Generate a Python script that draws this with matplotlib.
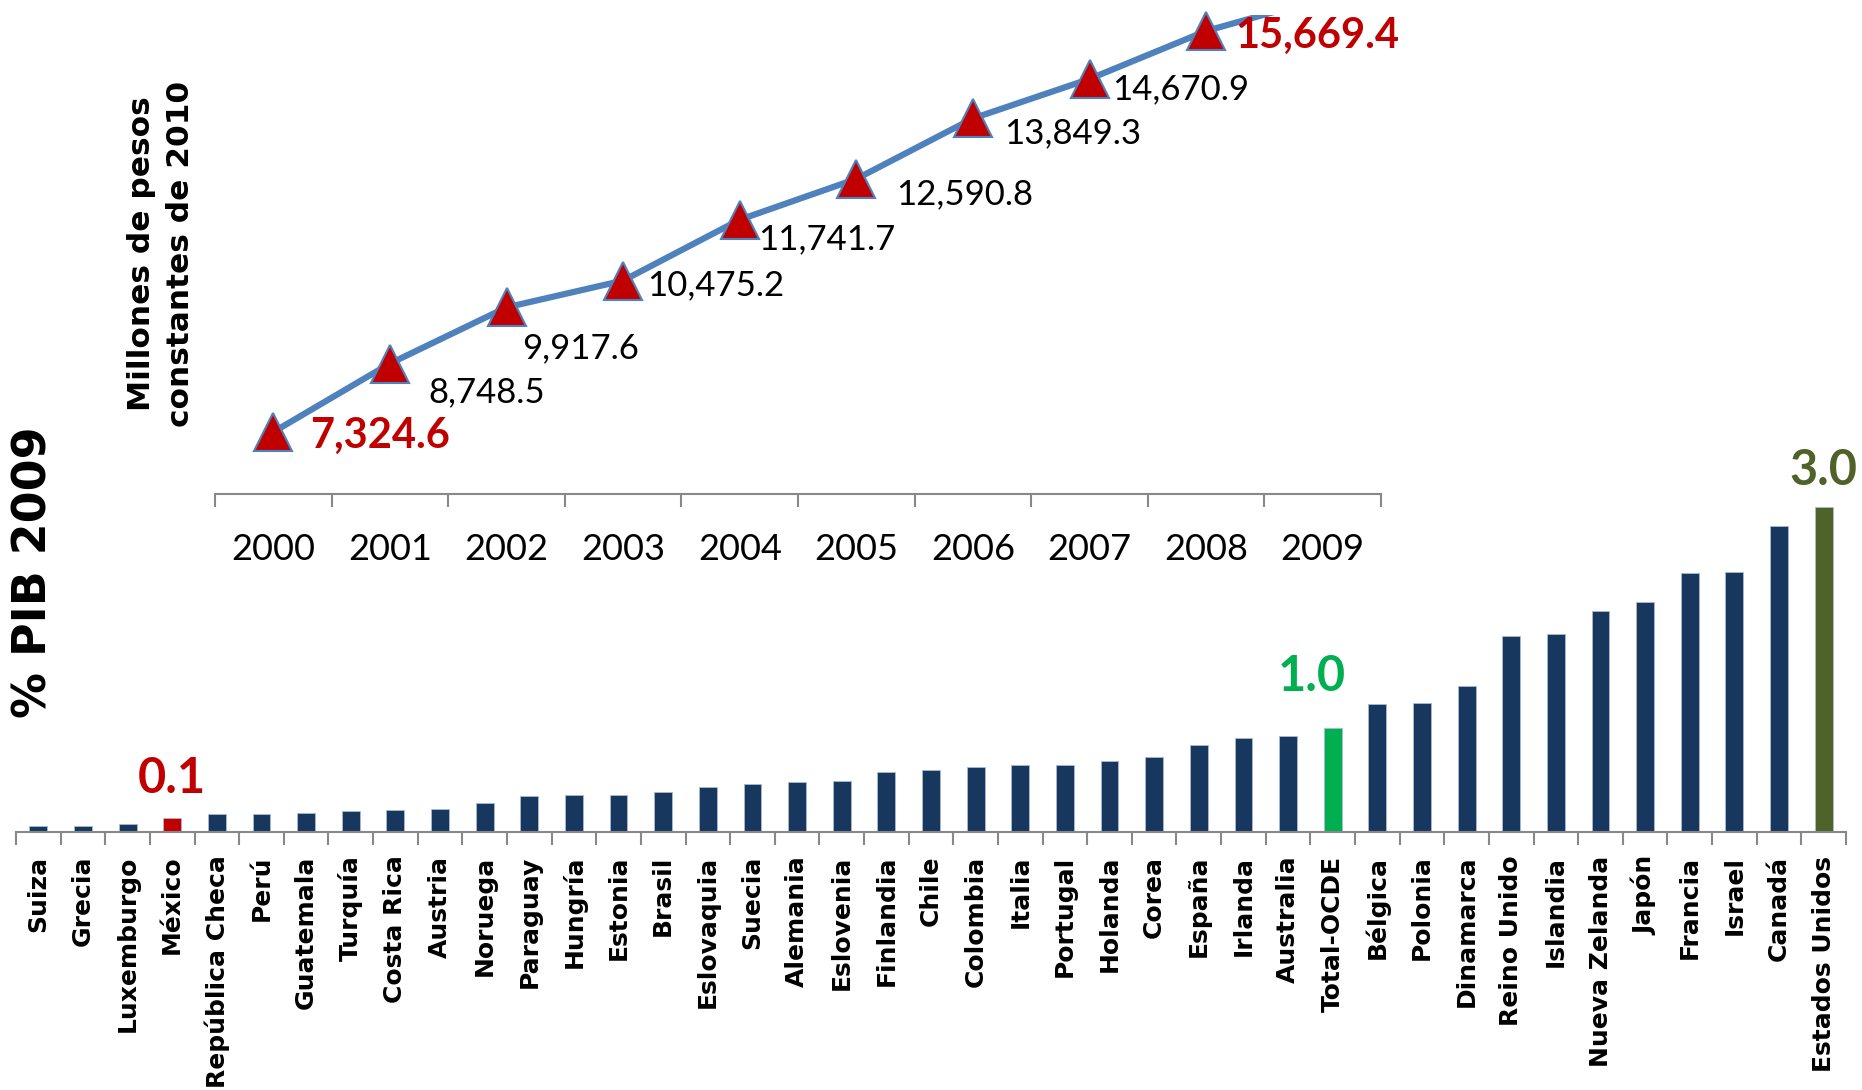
import matplotlib.pyplot as plt
import numpy as np

# gasto (millones de pesos constantes de 2010)
years = ['2000', '2001', '2002', '2003', '2004', '2005', '2006', '2007', '2008', '2009']
gasto = [7324.6, 8748.5, 9917.6, 10475.2, 11741.7, 12590.8, 13849.3, 14670.9, 15669.4, 16350.0]

# % PIB 2009 por pais
paises = ['Suiza', 'Grecia', 'Luxemburgo', 'México', 'República Checa', 'Perú', 'Guatemala',
          'Turquía', 'Costa Rica', 'Austria', 'Noruega', 'Paraguay', 'Hungría', 'Estonia',
          'Brasil', 'Eslovaquia', 'Suecia', 'Alemania', 'Eslovenia', 'Finlandia', 'Chile',
          'Colombia', 'Italia', 'Portugal', 'Holanda', 'Corea', 'España', 'Irlanda',
          'Australia', 'Total-OCDE', 'Bélgica', 'Polonia', 'Dinamarca', 'Reino Unido',
          'Islandia', 'Nueva Zelanda', 'Japón', 'Francia', 'Israel', 'Canadá', 'Estados Unidos']
pib = [0.055, 0.055, 0.07, 0.13, 0.17, 0.17, 0.18, 0.19, 0.20, 0.21, 0.27, 0.33, 0.34, 0.34,
       0.37, 0.42, 0.44, 0.46, 0.47, 0.55, 0.57, 0.60, 0.62, 0.62, 0.66, 0.69, 0.80, 0.87,
       0.89, 0.96, 1.18, 1.19, 1.35, 1.81, 1.83, 2.04, 2.12, 2.39, 2.40, 2.82, 3.0]

W, H = 1862, 1090
fig = plt.figure(figsize=(W / 100, H / 100), dpi=100)
gris = '#888888'

# ---- barras ----
axb = fig.add_axes([16 / W, (H - 832) / H, 1830 / W, 325 / H])
x = np.arange(len(paises))
colores = ['#17375E'] * len(paises)
colores[paises.index('México')] = '#C00000'
colores[paises.index('Total-OCDE')] = '#00B050'
colores[paises.index('Estados Unidos')] = '#4F6228'
axb.bar(x, pib, width=0.4, color=colores, edgecolor='#A9BBD3', linewidth=0.6)
axb.set_xlim(-0.5, len(paises) - 0.5)
axb.set_ylim(0, 3.0)
for s in ['top', 'right', 'left']:
    axb.spines[s].set_visible(False)
axb.spines['bottom'].set_color(gris)
axb.spines['bottom'].set_linewidth(1.5)
axb.set_yticks([])
axb.set_xticks(x)
axb.set_xticklabels(paises, rotation=90, fontsize=18, fontweight='bold', family='DejaVu Sans')
axb.set_xticks(np.arange(len(paises) + 1) - 0.5, minor=True)
axb.tick_params(axis='x', which='major', length=0, pad=17)
axb.tick_params(axis='x', which='minor', length=9, width=1.5, color=gris)

for nombre, color, dx, dy in [('México', '#C00000', 0, 18),
                              ('Total-OCDE', '#00B050', -15, 26.5),
                              ('Estados Unidos', '#4F6228', 0, 16)]:
    i = paises.index(nombre)
    axb.annotate(f'{pib[i]:.1f}', (i, pib[i]), xytext=(dx, dy), textcoords='offset points',
                 ha='center', va='baseline', color=color, fontsize=35, fontweight='bold',
                 family='Lato', annotation_clip=False)

# ---- linea ----
axl = fig.add_axes([215 / W, (H - 494.3) / H, 1166 / W, 479.3 / H])
xl = np.arange(len(years))
ytop = 16002
axl.plot(xl, gasto, color='#4F81BD', lw=4.5, solid_capstyle='butt')
vis = [i for i, v in enumerate(gasto) if v <= ytop]
axl.plot(xl[vis], [gasto[i] for i in vis], ls='none', marker='^', ms=28,
         mfc='#C00000', mec='#4F81BD', mew=1.5, clip_on=False)
axl.set_ylim(6028, ytop)
axl.set_xlim(-0.5, len(years) - 0.5)
for s in ['top', 'right', 'left']:
    axl.spines[s].set_visible(False)
axl.spines['bottom'].set_color(gris)
axl.spines['bottom'].set_linewidth(1.5)
axl.set_yticks([])
axl.set_xticks(xl)
axl.set_xticklabels(years, fontsize=26, family='Lato')
axl.set_xticks(np.arange(len(years) + 1) - 0.5, minor=True)
axl.tick_params(axis='x', which='major', length=0, pad=28)
axl.tick_params(axis='x', which='minor', length=9.4, width=1.5, color=gris)

etiqueta_dx = [26.6, 27.8, 11.1, 17.3, 13, 28.5, 22.8, 16.6, 20.9]
etiqueta_dy = [-11.5, -27.6, -36.6, -10.4, -21.6, -18, -17.6, -14.4, -12.2]
for i in vis:
    extremo = i == 0 or i == vis[-1]
    axl.annotate(f'{gasto[i]:,.1f}', (xl[i], gasto[i]),
                 xytext=(etiqueta_dx[i], etiqueta_dy[i]), textcoords='offset points',
                 ha='left', va='baseline', family='Lato',
                 fontsize=30 if extremo else 25,
                 fontweight='bold' if extremo else 'normal',
                 color='#C00000' if extremo else 'black', annotation_clip=False)

fig.text(34 / W, 1 - 572.5 / H, '% PIB 2009', rotation=90, ha='center', va='center',
         fontsize=33, fontweight='bold')
fig.text(161 / W, 1 - 254 / H, 'Millones de pesos\nconstantes de 2010', rotation=90,
         ha='center', va='center', multialignment='center', fontsize=22.5,
         fontweight='bold', linespacing=1.45)

fig.savefig('out.png', dpi=100)
